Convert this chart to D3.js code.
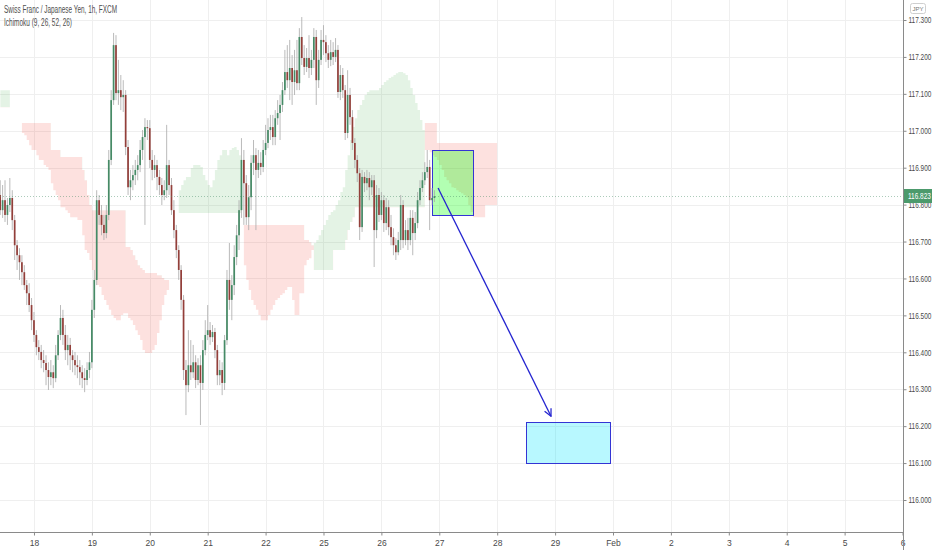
<!DOCTYPE html>
<html>
<head>
<meta charset="utf-8">
<script src="https://cdn.jsdelivr.net/npm/d3@7"></script>
<style>
  body { margin: 0; background: #fff; }
  text { font-family: "Liberation Sans", Arial, sans-serif; }
</style>
</head>
<body>
<svg id="chart"></svg>
<script>
// <========================== data ==========================>
const firstOpen = 116.826;

const closes = [
  116.785,116.812,116.772,116.799,116.818,116.758,116.690,116.663,116.644,116.617,
  116.582,116.560,116.528,116.487,116.447,116.414,116.401,116.379,116.371,116.352,
  116.333,116.346,116.330,116.392,116.447,116.493,116.447,116.406,116.420,116.392,
  116.379,116.365,116.360,116.346,116.330,116.325,116.352,116.373,116.515,116.596,
  116.812,116.772,116.745,116.723,116.772,116.921,117.083,117.232,117.102,117.110,
  117.091,117.097,116.956,116.847,116.866,116.880,116.894,116.907,116.948,116.983,
  117.010,117.007,116.921,116.894,116.907,116.875,116.853,116.826,116.839,116.907,
  116.853,116.785,116.731,116.677,116.623,116.542,116.352,116.311,116.365,116.346,
  116.373,116.325,116.365,116.317,116.406,116.447,116.460,116.441,116.455,116.406,
  116.338,116.352,116.317,116.433,116.596,116.542,116.582,116.658,116.717,116.785,
  116.921,116.858,116.766,116.820,116.913,116.934,116.894,116.913,116.902,116.948,
  116.967,117.002,117.010,116.983,117.034,117.048,117.070,117.110,117.159,117.137,
  117.170,117.132,117.164,117.129,117.254,117.197,117.173,117.197,117.170,117.192,
  117.254,117.137,117.192,117.246,117.240,117.210,117.192,117.213,117.200,117.219,
  117.105,117.151,117.110,116.994,117.097,117.037,116.967,116.921,116.885,116.739,
  116.875,116.858,116.872,116.847,116.866,116.731,116.826,116.772,116.812,116.750,
  116.793,116.739,116.712,116.690,116.671,116.704,116.799,116.704,116.731,116.704,
  116.764,116.723,116.750,116.812,116.845,116.866,116.888,116.902,116.812,116.818,
  116.823
];

const highs = [
  116.866,116.853,116.866,116.818,116.872,116.839,116.772,116.704,116.682,116.663,
  116.636,116.596,116.587,116.547,116.509,116.460,116.433,116.420,116.406,116.392,
  116.373,116.379,116.365,116.420,116.460,116.528,116.515,116.474,116.447,116.439,
  116.406,116.401,116.392,116.379,116.365,116.357,116.373,116.401,116.542,116.623,
  116.839,116.826,116.799,116.772,116.799,116.948,117.110,117.265,117.259,117.192,
  117.151,117.137,117.110,116.975,116.894,116.907,116.921,116.934,116.975,117.002,
  117.034,117.029,117.029,116.948,116.934,116.921,116.894,116.872,116.866,117.016,
  116.921,116.872,116.812,116.745,116.690,116.636,116.555,116.379,116.460,116.433,
  116.420,116.392,116.384,116.392,116.433,116.487,116.528,116.482,116.474,116.466,
  116.420,116.379,116.373,116.447,116.623,116.696,116.609,116.690,116.745,116.812,
  116.980,116.948,116.880,116.853,116.934,116.975,116.953,116.948,116.942,116.975,
  117.016,117.034,117.043,117.043,117.056,117.083,117.097,117.132,117.219,117.232,
  117.246,117.205,117.219,117.246,117.278,117.308,117.232,117.224,117.259,117.219,
  117.278,117.273,117.219,117.273,117.286,117.259,117.232,117.246,117.240,117.251,
  117.232,117.178,117.170,117.124,117.164,117.116,117.056,116.980,116.934,116.899,
  116.894,116.888,116.894,116.888,116.880,116.880,116.853,116.845,116.834,116.826,
  116.818,116.812,116.772,116.736,116.709,116.726,116.826,116.812,116.758,116.764,
  116.785,116.785,116.780,116.834,116.866,116.888,116.915,116.948,116.921,116.845,
  116.839
];

const lows = [
  116.772,116.764,116.753,116.745,116.780,116.731,116.650,116.623,116.596,116.582,
  116.569,116.528,116.509,116.460,116.428,116.392,116.379,116.357,116.346,116.311,
  116.298,116.311,116.303,116.319,116.379,116.433,116.420,116.379,116.365,116.352,
  116.346,116.338,116.330,116.311,116.303,116.292,116.311,116.330,116.357,116.493,
  116.582,116.745,116.717,116.704,116.709,116.758,116.907,117.070,117.083,117.070,
  117.056,117.051,116.934,116.826,116.812,116.839,116.853,116.866,116.888,116.921,
  116.745,116.975,116.899,116.866,116.872,116.839,116.826,116.799,116.812,116.818,
  116.826,116.772,116.709,116.655,116.596,116.515,116.325,116.230,116.292,116.325,
  116.330,116.303,116.311,116.203,116.298,116.392,116.433,116.420,116.428,116.384,
  116.311,116.311,116.284,116.298,116.420,116.515,116.487,116.555,116.636,116.677,
  116.764,116.745,116.745,116.731,116.785,116.880,116.731,116.872,116.880,116.888,
  116.934,116.953,116.975,116.961,116.961,117.016,116.975,117.051,117.097,117.116,
  117.083,117.070,117.097,117.110,117.110,117.178,117.151,117.159,117.143,117.151,
  117.170,117.070,117.116,117.178,117.205,117.186,117.170,117.175,117.178,117.186,
  117.089,117.083,117.089,116.975,116.980,117.016,116.948,116.899,116.861,116.704,
  116.726,116.834,116.839,116.812,116.826,116.631,116.709,116.753,116.758,116.726,
  116.731,116.717,116.690,116.663,116.650,116.663,116.677,116.682,116.690,116.677,
  116.690,116.663,116.704,116.736,116.799,116.834,116.853,116.872,116.731,116.799,
  116.807
];

// Ichimoku leading spans (shifted 26 bars ahead)
const spanA = [
  117.110,117.110,117.110,117.110,117.021,117.021,117.021,117.021,117.021,116.994,
  116.988,116.975,116.961,116.948,116.948,116.934,116.921,116.921,116.907,116.902,
  116.894,116.858,116.839,116.826,116.812,116.793,116.793,116.785,116.777,116.766,
  116.766,116.766,116.758,116.758,116.717,116.677,116.669,116.650,116.623,116.596,
  116.582,116.577,116.555,116.542,116.528,116.515,116.501,116.493,116.487,116.487,
  116.501,116.506,116.506,116.493,116.487,116.474,116.460,116.447,116.433,116.406,
  116.398,116.398,116.398,116.406,116.420,116.452,116.487,116.528,116.555,116.569,
  116.677,116.677,116.677,116.677,116.839,116.853,116.866,116.875,116.875,116.899,
  116.907,116.907,116.907,116.902,116.880,116.866,116.853,116.847,116.866,116.894,
  116.921,116.934,116.948,116.948,116.934,116.948,116.953,116.956,116.948,116.934,
  116.758,116.636,116.596,116.569,116.542,116.528,116.515,116.501,116.487,116.487,
  116.487,116.501,116.515,116.528,116.542,116.547,116.555,116.560,116.569,116.577,
  116.577,116.542,116.501,116.501,116.560,116.560,116.636,116.650,116.655,116.677,
  116.696,116.704,116.717,116.731,116.745,116.758,116.772,116.780,116.785,116.799,
  116.812,116.834,116.847,116.894,116.934,116.975,117.010,117.034,117.056,117.070,
  117.083,117.097,117.105,117.110,117.110,117.110,117.110,117.116,117.124,117.132,
  117.137,117.143,117.146,117.151,117.156,117.159,117.159,117.156,117.151,117.137,
  117.116,117.097,117.075,117.056,117.029,117.002,116.948,116.948,116.942,116.934,
  116.929,116.921,116.907,116.894,116.875,116.866,116.858,116.847,116.845,116.839,
  116.834,116.831,116.826,116.820,116.799,116.780,116.766,116.766,116.766,116.766,
  116.766,116.799,116.799,116.799,116.799,116.799,116.799
];

const spanB = [
  117.064,117.064,117.064,117.064,117.021,117.021,117.021,117.021,117.021,117.021,
  117.021,117.021,117.021,117.021,117.021,117.021,117.021,117.021,117.021,117.021,
  117.021,116.948,116.948,116.948,116.948,116.929,116.929,116.929,116.929,116.929,
  116.929,116.929,116.929,116.929,116.894,116.866,116.826,116.799,116.785,116.785,
  116.785,116.785,116.785,116.785,116.785,116.785,116.785,116.785,116.785,116.785,
  116.785,116.785,116.685,116.685,116.677,116.663,116.650,116.636,116.628,116.623,
  116.615,116.615,116.615,116.615,116.615,116.609,116.609,116.601,116.596,116.596,
  116.677,116.677,116.677,116.677,116.777,116.777,116.777,116.777,116.777,116.777,
  116.777,116.777,116.777,116.777,116.777,116.777,116.777,116.777,116.777,116.777,
  116.777,116.777,116.777,116.777,116.777,116.777,116.777,116.777,116.777,116.777,
  116.758,116.745,116.745,116.745,116.745,116.745,116.745,116.745,116.745,116.745,
  116.745,116.745,116.745,116.745,116.745,116.745,116.745,116.745,116.745,116.745,
  116.745,116.745,116.745,116.745,116.745,116.745,116.704,116.704,116.698,116.690,
  116.623,116.623,116.623,116.623,116.623,116.623,116.623,116.623,116.677,116.677,
  116.677,116.677,116.677,116.704,116.731,116.753,116.766,116.793,116.793,116.793,
  116.793,116.793,116.793,116.793,116.793,116.793,116.793,116.793,116.793,116.793,
  116.793,116.793,116.793,116.793,116.793,116.793,116.793,116.793,116.793,116.793,
  116.793,116.793,116.793,116.793,116.793,116.793,117.021,117.021,117.021,117.021,
  117.021,116.967,116.967,116.967,116.967,116.967,116.967,116.967,116.967,116.967,
  116.967,116.967,116.967,116.967,116.967,116.967,116.967,116.967,116.967,116.967,
  116.967,116.967,116.967,116.967,116.967,116.967,116.967
];

// axis ticks
const priceTicks = [116.0, 116.1, 116.2, 116.3, 116.4, 116.5, 116.6, 116.7, 116.8, 116.9, 117.0, 117.1, 117.2, 117.3];
const dayTickBars = [14, 38, 62, 86, 110, 134, 158, 182, 206, 230, 254, 278, 302, 326, 350, 374];
const dayLabels = ["18", "19", "20", "21", "22", "25", "26", "27", "28", "29", "Feb", "2", "3", "4", "5", "6"];

// drawings (bar index / price)
const entryBox = { bar0: 179, bar1: 196, top: 116.948, bottom: 116.772 };
const targetBox = { bar0: 218, bar1: 253, top: 116.211, bottom: 116.100 };
const arrowPath = { bar0: 181.5, price0: 116.845, bar1: 228.3, price1: 116.227 };

const titleText = "Swiss Franc / Japanese Yen, 1h, FXCM";
const studyText = "Ichimoku (9, 26, 52, 26)";

// <========================== layout ==========================>
const width = 932;
const height = 550;
const plotRight = 903;
const plotBottom = 532;
const squeeze = 0.76; // narrow axis font

const x = d3.scaleLinear().domain([-0.08, 374.2]).range([0, plotRight]);
const y = d3.scaleLinear().domain([116.0, 117.3]).range([500, 20]);

const green = "#468b66";
const red = "#933f3a";
const gridColor = "#efefef";
const axisColor = "#8a8a8a";
const labelColor = "#4a4a4a";

const svg = d3.select("#chart").attr("width", width).attr("height", height);

// grid
svg.append("g")
  .attr("class", "grid-y")
  .selectAll("line")
  .data(priceTicks)
  .join("line")
  .attr("x1", 0).attr("x2", plotRight)
  .attr("y1", (d) => Math.round(y(d)) + 0.5)
  .attr("y2", (d) => Math.round(y(d)) + 0.5)
  .attr("stroke", gridColor);

svg.append("g")
  .attr("class", "grid-x")
  .selectAll("line")
  .data(dayTickBars)
  .join("line")
  .attr("x1", (d) => Math.round(x(d)) + 0.5)
  .attr("x2", (d) => Math.round(x(d)) + 0.5)
  .attr("y1", 0).attr("y2", plotBottom)
  .attr("stroke", gridColor);

// <========================== ichimoku cloud ==========================>
const bars = spanA.map((a, i) => ({ i, a, b: spanB[i] }));
const step = d3.curveStepAfter;

const defs = svg.append("defs");
defs.append("clipPath").attr("id", "aboveB")
  .append("path")
  .attr("d", d3.area().curve(step).x((d) => x(d.i)).y0(0).y1((d) => y(d.b))(bars));
defs.append("clipPath").attr("id", "belowB")
  .append("path")
  .attr("d", d3.area().curve(step).x((d) => x(d.i)).y0(plotBottom).y1((d) => y(d.b))(bars));

const cloudArea = d3.area().curve(step)
  .x((d) => x(d.i))
  .y0((d) => y(d.b))
  .y1((d) => y(d.a));

svg.append("path")
  .attr("d", cloudArea(bars))
  .attr("clip-path", "url(#aboveB)")
  .attr("fill", "rgba(76,175,80,0.15)");

svg.append("path")
  .attr("d", cloudArea(bars))
  .attr("clip-path", "url(#belowB)")
  .attr("fill", "rgba(244,67,54,0.16)");

// <========================== boxes ==========================>
const drawBox = (box, fill) => {
  svg.append("rect")
    .attr("x", Math.round(x(box.bar0)) + 0.5)
    .attr("y", Math.round(y(box.top)) + 0.5)
    .attr("width", Math.round(x(box.bar1) - x(box.bar0)))
    .attr("height", Math.round(y(box.bottom) - y(box.top)))
    .attr("fill", fill)
    .attr("stroke", "#3434d4")
    .attr("stroke-width", 1);
};
drawBox(entryBox, "rgba(0,255,0,0.3)");
drawBox(targetBox, "rgba(0,229,255,0.28)");

// <========================== candles ==========================>
const candles = closes.map((c, i) => ({
  i,
  o: i === 0 ? firstOpen : closes[i - 1],
  c,
  h: highs[i],
  l: lows[i],
}));

const candleGroup = svg.append("g").attr("class", "candles");

candleGroup.selectAll(".wick")
  .data(candles)
  .join("line")
  .attr("class", "wick")
  .attr("x1", (d) => x(d.i)).attr("x2", (d) => x(d.i))
  .attr("y1", (d) => y(d.h)).attr("y2", (d) => y(d.l))
  .attr("stroke", "#a8a8a8")
  .attr("stroke-width", 0.8);

candleGroup.selectAll(".body")
  .data(candles)
  .join("rect")
  .attr("class", "body")
  .attr("x", (d) => x(d.i) - 0.85)
  .attr("width", 1.7)
  .attr("y", (d) => y(Math.max(d.o, d.c)))
  .attr("height", (d) => Math.max(1, Math.abs(y(d.o) - y(d.c))))
  .attr("fill", (d) => (d.c >= d.o ? green : red));

// <========================== arrow ==========================>
defs.append("marker")
  .attr("id", "head")
  .attr("viewBox", "0 0 10 10")
  .attr("refX", 9).attr("refY", 5)
  .attr("markerWidth", 9).attr("markerHeight", 9)
  .attr("markerUnits", "userSpaceOnUse")
  .attr("orient", "auto")
  .append("path")
  .attr("d", "M1,1 L9,5 L1,9")
  .attr("fill", "none")
  .attr("stroke", "#2424d0")
  .attr("stroke-width", 1.4);

svg.append("line")
  .attr("x1", x(arrowPath.bar0)).attr("y1", y(arrowPath.price0))
  .attr("x2", x(arrowPath.bar1)).attr("y2", y(arrowPath.price1))
  .attr("stroke", "#2424d0")
  .attr("stroke-width", 1.3)
  .attr("marker-end", "url(#head)");

// <========================== last price ==========================>
const lastPrice = closes[closes.length - 1];
svg.append("line")
  .attr("x1", 0).attr("x2", plotRight)
  .attr("y1", Math.round(y(lastPrice)) + 0.5)
  .attr("y2", Math.round(y(lastPrice)) + 0.5)
  .attr("stroke", green)
  .attr("stroke-opacity", 0.45)
  .attr("stroke-dasharray", "1,2");

// <========================== axes ==========================>
const yAxis = svg.append("g")
  .attr("transform", `translate(${plotRight + 0.5},0)`)
  .call(d3.axisRight(y).tickValues(priceTicks).tickFormat(d3.format(".3f")).tickSize(3).tickPadding(2));

const xAxis = svg.append("g")
  .attr("transform", `translate(0,${plotBottom + 0.5})`)
  .call(d3.axisBottom(x).tickValues(dayTickBars).tickFormat((d, i) => dayLabels[i]).tickSize(3).tickPadding(4));

[yAxis, xAxis].forEach((g) => {
  g.select(".domain").remove();
  g.selectAll(".tick line").attr("stroke", axisColor);
  g.selectAll("text").attr("fill", labelColor).attr("font-size", 8.5);
});
yAxis.selectAll("text")
  .attr("x", 5 / squeeze)
  .attr("transform", `scale(${squeeze},1)`);

svg.append("line")
  .attr("x1", plotRight + 0.5).attr("x2", plotRight + 0.5)
  .attr("y1", 0).attr("y2", height)
  .attr("stroke", axisColor);
svg.append("line")
  .attr("x1", 0).attr("x2", plotRight)
  .attr("y1", plotBottom + 0.5).attr("y2", plotBottom + 0.5)
  .attr("stroke", axisColor);

// price badge
const badgeY = Math.round(y(lastPrice));
svg.append("rect")
  .attr("x", plotRight + 1).attr("y", badgeY - 7)
  .attr("width", width - plotRight - 1).attr("height", 14)
  .attr("fill", "#4c9a6c");
svg.append("text")
  .attr("transform", `translate(${plotRight + 5},${badgeY + 3}) scale(${squeeze},1)`)
  .attr("font-size", 8.5)
  .attr("fill", "#fff")
  .text(d3.format(".3f")(lastPrice));

// currency tag
svg.append("rect")
  .attr("x", 910.5).attr("y", 3.5)
  .attr("width", 15).attr("height", 10).attr("rx", 2)
  .attr("fill", "#fff").attr("stroke", "#cfcfcf");
svg.append("text")
  .attr("x", 918).attr("y", 10.8)
  .attr("text-anchor", "middle")
  .attr("font-size", 6)
  .attr("fill", "#777")
  .text("JPY");

// legend
svg.append("text")
  .attr("x", 4).attr("y", 13)
  .attr("font-size", 10)
  .attr("fill", "#4f4f4f")
  .attr("textLength", 113)
  .attr("lengthAdjust", "spacingAndGlyphs")
  .text(titleText);
svg.append("text")
  .attr("x", 4).attr("y", 26)
  .attr("font-size", 10)
  .attr("fill", "#4f4f4f")
  .attr("textLength", 68)
  .attr("lengthAdjust", "spacingAndGlyphs")
  .text(studyText);
</script>
</body>
</html>
